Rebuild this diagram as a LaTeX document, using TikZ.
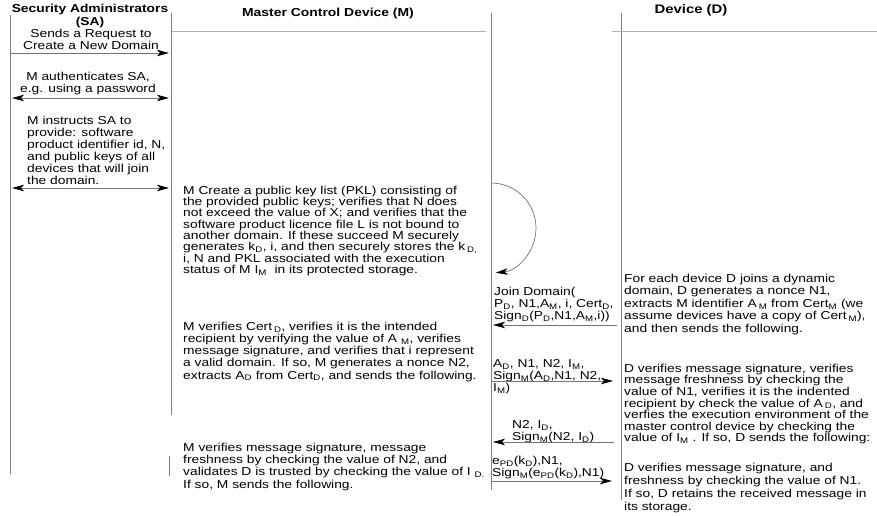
\documentclass[tikz,border=0pt]{standalone}
\usepackage{fontspec}
\setmainfont{Liberation Sans}[FakeStretch=1.2]
\usetikzlibrary{arrows.meta}
\newcommand\sbs[1]{\textsubscript{#1}}
\newcommand\tstrut{\rule{0pt}{9pt}}
\begin{document}
\begin{tikzpicture}[x=1pt,y=-1pt,
  >={Stealth[length=12pt,width=6.5pt,inset=3pt,color=black]},
  life/.style={draw=black!50,line width=0.7pt},
  hline/.style={draw=black!30,line width=0.7pt},
  msg/.style={draw=black!55,line width=0.7pt},
  body/.style={inner sep=0pt,text=black},
  blockl/.style={body,anchor=north west,align=left},
  blockc/.style={body,anchor=north,align=center},
  fs/.style={font=\fontsize{11.5}{#1}\selectfont},
  head/.style={inner sep=0pt,text=black,align=center}]
\useasboundingbox (0,0) rectangle (877,516);
% headers
\node[head,anchor=north,font=\bfseries\fontsize{11.5}{13}\selectfont] (hsa) at (90,3) {\tstrut Security Administrators\\(SA)};
\node[head,font=\bfseries\fontsize{11.6}{14}\selectfont] (hm) at (328,14) {Master Control Device (M)};
\node[head,font=\bfseries\fontsize{12.4}{14}\selectfont] (hd) at (691,10) {Device (D)};
% lifelines
\coordinate (saL0) at (10,15); \coordinate (saL1) at (10,474);
\coordinate (saR0) at (171,13); \coordinate (saR1) at (171,415);
\coordinate (saS0) at (169,456); \coordinate (saS1) at (169,476);
\coordinate (m0) at (491,13); \coordinate (m1) at (491,490);
\coordinate (d0) at (621,13); \coordinate (d1) at (621,500);
\coordinate (hm0) at (172,31); \coordinate (hm1) at (486,31);
\coordinate (hd0) at (612,31); \coordinate (hd1) at (877,31);
\draw[life] (saL0) -- (saL1);
\draw[life] (saR0) -- (saR1);
\draw[life] (saS0) -- (saS1);
\draw[life] (m0) -- (m1);
\draw[life] (d0) -- (d1);
\draw[hline] (hm0) -- (hm1);
\draw[hline] (hd0) -- (hd1);
% SA column
\node[blockc,fs=12.2] (t1) at (91,28) {\tstrut Sends a Request to\\Create a New Domain};
\coordinate (a1s) at (11,53); \coordinate (a1e) at (169,53);
\draw[msg,->] (a1s) -- (a1e);
\node[blockc,fs=12.2] (t2) at (88,71) {\tstrut M authenticates SA,\\e.g. using a password};
\coordinate (a2s) at (12,98); \coordinate (a2e) at (169,98);
\draw[msg,<->] (a2s) -- (a2e);
\node[blockl,fs=12.1] (t3) at (27,115) {\tstrut M instructs SA to\\provide: software\\product identifier id, N,\\and public keys of all\\devices that will join\\the domain.};
\coordinate (a3s) at (12,188); \coordinate (a3e) at (169,188);
\draw[msg,<->] (a3s) -- (a3e);
% M create
\node[blockl,fs=11.3] (t4) at (183,185) {\tstrut M Create a public key list (PKL) consisting of\\the provided public keys; verifies that N does\\not exceed the value of X; and verifies that the\\software product licence file L is not bound to\\another domain. If these succeed M securely\\generates k\sbs{D}, i, and then securely stores the k\,\sbs{D,}\\i, N and PKL associated with the execution\\status of M I\sbs{M}\ \ in its protected storage.};
\coordinate (sf0) at (491,183);
\draw[msg,->] (sf0) arc[start angle=-90,end angle=84,radius=45] coordinate (sf1);
% Join
\node[blockl,fs=12.3] (t5) at (494,286) {\tstrut Join Domain(\\P\sbs{D}, N1,A\sbs{M}, i, Cert\sbs{D},\\Sign\sbs{D}(P\sbs{D},N1,A\sbs{M},i))};
\coordinate (a4s) at (617,325); \coordinate (a4e) at (493,325);
\draw[msg,->] (a4s) -- (a4e);
\node[blockl,fs=12.5] (t6) at (624,273) {\tstrut For each device D joins a dynamic\\domain, D generates a nonce N1,\\extracts M identifier A\,\sbs{M} from Cert\sbs{M} (we\\assume devices have a copy of Cert\,\sbs{M}),\\and then sends the following.};
% M verifies cert
\node[blockl,fs=12.2] (t7) at (183,321) {\tstrut M verifies Cert\,\sbs{D}, verifies it is the intended\\recipient by verifying the value of A\ \sbs{M}, verifies\\message signature, and verifies that i represent\\a valid domain. If so, M generates a nonce N2,\\extracts A\sbs{D} from Cert\sbs{D}, and sends the following.};
\node[blockl,fs=12] (t8) at (493,358) {\tstrut A\sbs{D}, N1, N2, I\sbs{M},\\Sign\sbs{M}(A\sbs{D},N1, N2,\\I\sbs{M})};
\coordinate (a5s) at (492,381); \coordinate (a5e) at (613,381);
\draw[msg,->] (a5s) -- (a5e);
\node[blockl,fs=11.6] (t9) at (624,363) {\tstrut D verifies message signature, verifies\\message freshness by checking the\\value of N1, verifies it is the indented\\recipient by check the value of A\,\sbs{D}, and\\verfies the execution environment of the\\master control device by checking the\\value of I\sbs{M} . If so, D sends the following:};
\node[blockl,fs=12] (t10) at (512,419) {\tstrut N2, I\sbs{D},\\Sign\sbs{M}(N2, I\sbs{D})};
\coordinate (a6s) at (614,442); \coordinate (a6e) at (493,442);
\draw[msg,->] (a6s) -- (a6e);
\node[blockl,fs=12.3] (t11) at (183,442) {\tstrut M verifies message signature, message\\freshness by checking the value of N2, and\\validates D is trusted by checking the value of I\ \sbs{D.}\\If so, M sends the following.};
\node[blockl,fs=12.5] (t12) at (492,455) {\tstrut e\sbs{PD}(k\sbs{D}),N1,\\Sign\sbs{M}(e\sbs{PD}(k\sbs{D}),N1)};
\coordinate (a7s) at (492,481); \coordinate (a7e) at (612,481);
\draw[msg,->] (a7s) -- (a7e);
\node[blockl,fs=13] (t13) at (624,462) {\tstrut D verifies message signature, and\\freshness by checking the value of N1.\\If so, D retains the received message in\\its storage.};
\end{tikzpicture}
\end{document}
